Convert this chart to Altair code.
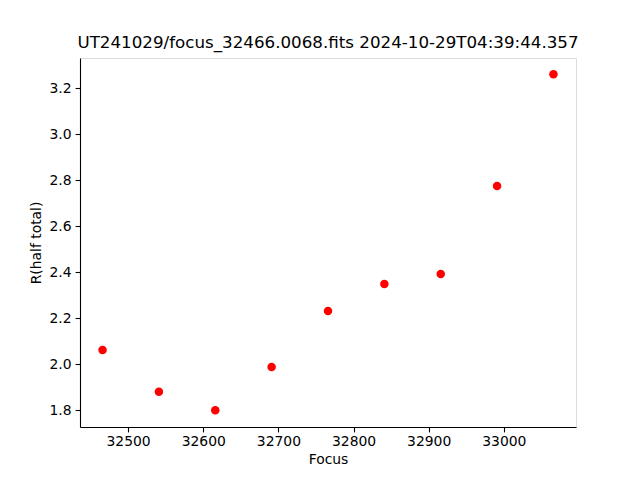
import altair as alt
import pandas as pd

focus = [32466, 32541, 32616, 32691, 32766, 32841, 32916, 32991, 33066]
r_half = [2.062, 1.880, 1.800, 1.988, 2.232, 2.349, 2.393, 2.775, 3.261]
x_ticks = [32500, 32600, 32700, 32800, 32900, 33000]
y_ticks = [1.8, 2.0, 2.2, 2.4, 2.6, 2.8, 3.0, 3.2]
title = "UT241029/focus_32466.0068.fits 2024-10-29T04:39:44.357"

df = pd.DataFrame({"Focus": focus, "R": r_half})

font = "DejaVu Sans"

chart = alt.Chart(df).mark_circle(color="red", size=72, opacity=1).encode(
    x=alt.X("Focus:Q",
            scale=alt.Scale(domain=[32436, 33096], nice=False, zero=False),
            axis=alt.Axis(values=x_ticks, format="d", title="Focus", grid=False,
                          labelFontSize=13.9, titleFontSize=13.9, labelFont=font, titleFont=font,
                          titleFontWeight="normal", labelColor="black", titleColor="black",
                          tickSize=4.9, tickWidth=1.1, tickColor="black", labelPadding=3,
                          domainColor="black", domainWidth=1.1, titlePadding=4)),
    y=alt.Y("R:Q",
            scale=alt.Scale(domain=[1.727, 3.332], nice=False, zero=False),
            axis=alt.Axis(values=y_ticks, format=".1f", title="R(half total)", grid=False,
                          labelFontSize=13.9, titleFontSize=13.9, labelFont=font, titleFont=font,
                          titleFontWeight="normal", labelColor="black", titleColor="black",
                          tickSize=4.9, tickWidth=1.1, tickColor="black", labelPadding=4,
                          domainColor="black", domainWidth=1.1, titlePadding=6)),
).properties(
    width=496,
    height=369,
    title=alt.TitleParams(text=title, font=font, fontSize=16.7, fontWeight="normal",
                          color="black", anchor="middle", offset=6),
    autosize=alt.AutoSizeParams(type="none"),
    padding={"left": 72, "top": 50, "right": 56, "bottom": 45},
).configure_view(stroke="black", strokeWidth=1.1).configure(background="white")

chart.save("out.html", embed_options={"renderer": "svg", "actions": False})
